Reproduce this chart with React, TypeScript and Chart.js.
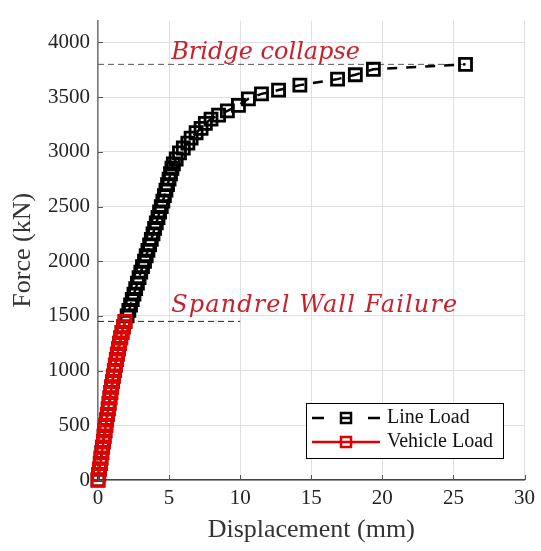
import React, { useEffect, useRef } from 'react';
import { Chart, registerables } from 'chart.js';

Chart.register(...registerables);

// ---- Data ----
const vehicleDisp = [0, 0.05, 0.1, 0.16, 0.21, 0.27, 0.32, 0.38, 0.43, 0.49, 0.55, 0.6, 0.66, 0.72, 0.78, 0.84, 0.9, 0.96, 1.02, 1.08, 1.15, 1.22, 1.29, 1.36, 1.44, 1.52, 1.6, 1.69, 1.79, 1.9];
const vehicleForce = [0, 50, 100, 150, 200, 250, 300, 350, 400, 450, 500, 550, 600, 650, 700, 750, 800, 850, 900, 950, 1000, 1050, 1100, 1150, 1200, 1250, 1300, 1350, 1400, 1450];

const lineLoadDisp = [0, 0.05, 0.1, 0.16, 0.21, 0.27, 0.32, 0.38, 0.43, 0.49, 0.55, 0.6, 0.66, 0.72, 0.78, 0.84, 0.9, 0.96, 1.02, 1.08, 1.15, 1.22, 1.29, 1.36, 1.44, 1.52, 1.6, 1.69, 1.79, 1.9,
  2.05, 2.17, 2.29, 2.41, 2.53, 2.65, 2.77, 2.89, 3.01, 3.13, 3.27, 3.39, 3.51, 3.63, 3.75, 3.87, 3.98, 4.1, 4.22, 4.33, 4.45, 4.56, 4.67, 4.78, 4.89, 5.0, 5.1, 5.2,
  5.3, 5.5, 5.73, 6.0, 6.32, 6.55, 6.9, 7.25, 7.55, 7.95, 8.48, 9.1, 9.88, 10.58, 11.5, 12.7, 14.2, 16.85, 18.1, 19.37, 25.85];
const lineLoadForce = [0, 50, 100, 150, 200, 250, 300, 350, 400, 450, 500, 550, 600, 650, 700, 750, 800, 850, 900, 950, 1000, 1050, 1100, 1150, 1200, 1250, 1300, 1350, 1400, 1450,
  1500, 1550, 1600, 1650, 1700, 1750, 1800, 1850, 1900, 1950, 2000, 2050, 2100, 2150, 2200, 2250, 2300, 2350, 2400, 2450, 2500, 2550, 2600, 2650, 2700, 2750, 2800, 2850,
  2890, 2935, 2990, 3035, 3080, 3125, 3175, 3215, 3260, 3300, 3335, 3375, 3425, 3485, 3530, 3565, 3610, 3665, 3705, 3755, 3800];

const xTickValues = [0, 5, 10, 15, 20, 25, 30];
const yTickValues = [0, 500, 1000, 1500, 2000, 2500, 3000, 3500, 4000];

const bridgeCollapseForce = 3800;
const bridgeLineDisp = [0, 25.85];
const spandrelForce = 1450;
const spandrelLineDisp = [0, 10];

const annotationTexts = ['Bridge collapse', 'Spandrel Wall Failure'];
const annotationDisp = [5.15, 5.15];
const annotationForce = [3850, 1535];

const seriesLabels = ['Line Load', 'Vehicle Load'];
const xTitle = 'Displacement (mm)';
const yTitle = 'Force (kN)';

const RED = '#e00000';
const ANN_RED = '#c9202c';
const SERIF = '"Liberation Serif", "Times New Roman", serif';

export default function App() {
  const canvasRef = useRef<HTMLCanvasElement | null>(null);

  useEffect(() => {
    const canvas = canvasRef.current;
    if (!canvas) return;

    const overlay = {
      id: 'overlay',
      afterDraw(chart: any) {
        const ctx = chart.ctx as CanvasRenderingContext2D;
        const xs = chart.scales.x;
        const ys = chart.scales.y;
        const area = chart.chartArea;
        ctx.save();
        // inward tick marks
        ctx.strokeStyle = '#555';
        ctx.lineWidth = 1;
        ctx.beginPath();
        xTickValues.forEach((v) => {
          const px = Math.round(xs.getPixelForValue(v)) + 0.5;
          ctx.moveTo(px, area.bottom);
          ctx.lineTo(px, area.bottom - 5);
        });
        yTickValues.forEach((v) => {
          const py = Math.round(ys.getPixelForValue(v)) + 0.5;
          ctx.moveTo(area.left, py);
          ctx.lineTo(area.left + 5, py);
        });
        ctx.stroke();

        // annotation texts
        ctx.fillStyle = ANN_RED;
        ctx.font = 'italic 24px "DejaVu Serif", serif';
        ctx.textBaseline = 'alphabetic';
        ctx.textAlign = 'left';
        const targetW = [188, 286];
        annotationTexts.forEach((t, i) => {
          const w = ctx.measureText(t).width;
          const extra = Math.max(0, (targetW[i] - w) / Math.max(1, t.length - 1));
          (ctx as any).letterSpacing = `${extra.toFixed(2)}px`;
          ctx.fillText(t, xs.getPixelForValue(annotationDisp[i]), ys.getPixelForValue(annotationForce[i]));
          (ctx as any).letterSpacing = '0px';
        });

        // legend
        const lx = 306, ly = 403, lw = 197, lh = 55;
        ctx.fillStyle = '#ffffff';
        ctx.fillRect(lx, ly, lw, lh);
        ctx.strokeStyle = '#000';
        ctx.lineWidth = 1;
        ctx.setLineDash([]);
        ctx.strokeRect(lx + 0.5, ly + 0.5, lw, lh);

        const rows = [418, 442];
        const ds = chart.data.datasets;
        const lineDs = ds.find((d: any) => d.label === seriesLabels[0]);
        const vehDs = ds.find((d: any) => d.label === seriesLabels[1]);
        // Line Load sample
        ctx.strokeStyle = lineDs.borderColor;
        ctx.lineWidth = 2.5;
        ctx.beginPath();
        ctx.moveTo(312, rows[0]); ctx.lineTo(324, rows[0]);
        ctx.moveTo(341, rows[0]); ctx.lineTo(351, rows[0]);
        ctx.moveTo(368, rows[0]); ctx.lineTo(380, rows[0]);
        ctx.stroke();
        ctx.strokeRect(346 - 5, rows[0] - 5, 10, 10);
        // Vehicle Load sample
        ctx.strokeStyle = vehDs.borderColor;
        ctx.beginPath();
        ctx.moveTo(312, rows[1]); ctx.lineTo(380, rows[1]);
        ctx.stroke();
        ctx.fillStyle = '#fff';
        ctx.fillRect(346 - 5, rows[1] - 5, 10, 10);
        ctx.strokeRect(346 - 5, rows[1] - 5, 10, 10);
        ctx.beginPath();
        ctx.moveTo(342, rows[1]); ctx.lineTo(350, rows[1]);
        ctx.stroke();

        ctx.fillStyle = '#111';
        ctx.font = `20px ${SERIF}`;
        ctx.textBaseline = 'middle';
        ctx.fillText(seriesLabels[0], 387, rows[0]);
        ctx.fillText(seriesLabels[1], 387, rows[1]);
        ctx.restore();
      },
    };

    const chart = new Chart(canvas, {
      type: 'line',
      data: {
        datasets: [
          {
            label: seriesLabels[1],
            data: vehicleDisp.map((x, i) => ({ x, y: vehicleForce[i] })),
            borderColor: RED,
            borderWidth: 2.5,
            pointStyle: 'rect',
            pointRadius: 8.5,
            pointBorderWidth: 2.8,
            pointBorderColor: RED,
            pointBackgroundColor: 'rgba(0,0,0,0)',
            clip: false,
            order: 0,
          } as any,
          {
            label: seriesLabels[0],
            data: lineLoadDisp.map((x, i) => ({ x, y: lineLoadForce[i] })),
            borderColor: '#000000',
            borderWidth: 2.5,
            borderDash: [10, 9],
            pointStyle: 'rect',
            pointRadius: 8.5,
            pointBorderWidth: 2.8,
            pointBorderColor: '#000000',
            pointBackgroundColor: 'rgba(0,0,0,0)',
            clip: false,
            order: 1,
          } as any,
          {
            label: 'bridge',
            data: bridgeLineDisp.map((x) => ({ x, y: bridgeCollapseForce })),
            borderColor: '#555555',
            borderWidth: 1,
            borderDash: [6, 4],
            pointRadius: 0,
            order: 2,
          } as any,
          {
            label: 'spandrel',
            data: spandrelLineDisp.map((x) => ({ x, y: spandrelForce })),
            borderColor: '#222222',
            borderWidth: 1,
            borderDash: [6, 4],
            pointRadius: 0,
            order: 2,
          } as any,
        ],
      },
      options: {
        responsive: false,
        animation: false,
        parsing: false,
        normalized: true,
        layout: { padding: { left: 0, top: 15, right: 13, bottom: 0 } },
        plugins: {
          legend: { display: false },
          tooltip: { enabled: false },
        },
        scales: {
          x: {
            type: 'linear',
            min: 0,
            max: 30,
            afterBuildTicks: (s: any) => { s.ticks = xTickValues.map((v) => ({ value: v })); },
            afterFit: (s: any) => { s.height = 71; },
            grid: { color: '#e0e0e0', drawTicks: false, lineWidth: 1 },
            border: { color: '#444', width: 1.5 },
            ticks: { color: '#222', font: { family: SERIF, size: 21 }, padding: 6, callback: (v: any) => String(v) },
            title: { display: true, text: xTitle, color: '#333', font: { family: SERIF, size: 26 }, padding: { top: 0, bottom: 5 } },
          },
          y: {
            type: 'linear',
            min: 0,
            max: 4200,
            afterBuildTicks: (s: any) => { s.ticks = yTickValues.map((v) => ({ value: v })); },
            afterFit: (s: any) => { s.width = 98; },
            grid: { color: '#e0e0e0', drawTicks: false, lineWidth: 1 },
            border: { color: '#777', width: 1.5 },
            ticks: { color: '#222', font: { family: SERIF, size: 21 }, padding: 8, callback: (v: any) => String(v) },
            title: { display: true, text: yTitle, color: '#333', font: { family: SERIF, size: 26 }, padding: { top: 8, bottom: 0 } },
          },
        },
      } as any,
      plugins: [overlay],
    });

    return () => chart.destroy();
  }, []);

  return (
    <div style={{ position: 'fixed', left: 0, top: 0, width: 541, height: 551, background: '#fff' }}>
      <canvas ref={canvasRef} width={541} height={551} style={{ display: 'block' }} />
    </div>
  );
}
